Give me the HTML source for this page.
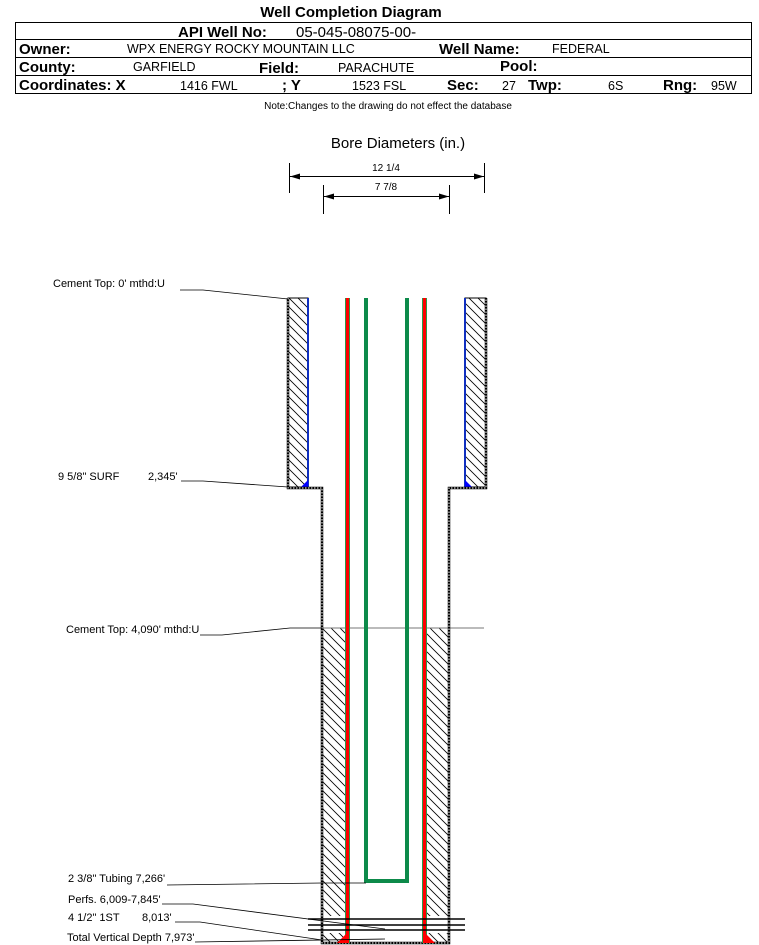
<!DOCTYPE html>
<html><head><meta charset="utf-8"><style>
body{margin:0;background:#fff;}
svg{display:block;font-family:"Liberation Sans",Arial,sans-serif;}
</style></head><body>
<svg width="759" height="945" viewBox="0 0 759 945" xmlns="http://www.w3.org/2000/svg">
<defs>
<pattern id="h" patternUnits="userSpaceOnUse" width="9" height="9">
<path d="M-1,-1 L10,10 M-10,-1 L1,10 M8,-1 L19,10" stroke="#000" stroke-width="0.8"/>
</pattern>
<marker id="a" markerWidth="10" markerHeight="8" refX="10" refY="4" orient="auto-start-reverse" markerUnits="userSpaceOnUse"><path d="M0,1 L10,4 L0,7z" fill="#000"/></marker>
</defs>
<text x="351" y="17" font-size="15" font-weight="bold" text-anchor="middle">Well Completion Diagram</text>
<rect x="15.5" y="22.5" width="736" height="71" fill="none" stroke="#000"/>
<line x1="15" y1="39.5" x2="752" y2="39.5" stroke="#000"/>
<line x1="15" y1="57.5" x2="752" y2="57.5" stroke="#000"/>
<line x1="15" y1="75.5" x2="752" y2="75.5" stroke="#000"/>
<g font-size="15" font-weight="bold">
<text x="178" y="37">API Well No:</text>
<text x="19" y="54">Owner:</text><text x="439" y="54">Well Name:</text>
<text x="19" y="72">County:</text><text x="259" y="73">Field:</text><text x="500" y="71">Pool:</text>
<text x="19" y="90">Coordinates: X</text><text x="282" y="90">; Y</text><text x="447" y="90">Sec:</text><text x="528" y="90">Twp:</text><text x="663" y="90">Rng:</text>
</g>
<g font-size="12.5">
<text x="296" y="37" font-size="15">05-045-08075-00-</text>
<text x="127" y="53">WPX ENERGY ROCKY MOUNTAIN LLC</text><text x="552" y="53">FEDERAL</text>
<text x="133" y="71">GARFIELD</text><text x="338" y="72">PARACHUTE</text>
<text x="180" y="90">1416 FWL</text><text x="352" y="90">1523 FSL</text><text x="502" y="90">27</text><text x="608" y="90">6S</text><text x="711" y="90">95W</text>
</g>
<text x="388" y="109" font-size="10" text-anchor="middle">Note:Changes to the drawing do not effect the database</text>
<text x="398" y="148" font-size="15" text-anchor="middle">Bore Diameters (in.)</text>
<g stroke="#000" stroke-width="1">
<line x1="289.5" y1="163" x2="289.5" y2="193"/><line x1="484.5" y1="163" x2="484.5" y2="193"/>
<line x1="290" y1="176.5" x2="484" y2="176.5" marker-start="url(#a)" marker-end="url(#a)"/>
<line x1="323.5" y1="185" x2="323.5" y2="214"/><line x1="449.5" y1="185" x2="449.5" y2="214"/>
<line x1="324" y1="196.5" x2="449" y2="196.5" marker-start="url(#a)" marker-end="url(#a)"/>
</g>
<text x="386" y="171" font-size="10" text-anchor="middle">12 1/4</text>
<text x="386" y="190" font-size="10" text-anchor="middle">7 7/8</text>
<rect x="288" y="298" width="20" height="189" fill="url(#h)" stroke="#000"/>
<rect x="465" y="298" width="21" height="189" fill="url(#h)" stroke="#000"/>
<line x1="308" y1="298" x2="308" y2="487" stroke="#1030c0" stroke-width="2"/>
<line x1="465" y1="298" x2="465" y2="487" stroke="#1030c0" stroke-width="2"/>
<path d="M301,487 L308,480 L308,487z" fill="#0000ff"/><path d="M465,480 L472,487 L465,487z" fill="#0000ff"/>
<rect x="322" y="628" width="23" height="288" fill="url(#h)"/>
<rect x="427" y="628" width="22" height="288" fill="url(#h)"/>
<rect x="322" y="933" width="23" height="10" fill="url(#h)"/>
<rect x="427" y="933" width="22" height="10" fill="url(#h)"/>
<line x1="322" y1="628" x2="484" y2="628" stroke="#777" stroke-width="1"/>
<g fill="none" stroke="#000" stroke-width="2.5">
<path d="M288,298 L288,488 L322,488 L322,943 L449,943 L449,488 L486,488 L486,298"/>
</g>
<g fill="none" stroke="#fff" stroke-width="1" stroke-dasharray="1.5 1.5">
<path d="M288,298 L288,488 L322,488 L322,943 L449,943 L449,488 L486,488 L486,298"/>
</g>
<rect x="345" y="298" width="5" height="645" fill="#2a9a4a"/><rect x="346" y="298" width="3" height="645" fill="#ff0000"/>
<rect x="422" y="298" width="5" height="645" fill="#2a9a4a"/><rect x="423" y="298" width="3" height="645" fill="#ff0000"/>
<path d="M337,943 L347,933 L347,943z" fill="#ff0000"/><path d="M425,933 L435,943 L425,943z" fill="#ff0000"/>
<path d="M366,298 L366,881 L407,881 L407,298" fill="none" stroke="#0d8a4a" stroke-width="4"/>
<g stroke="#000" stroke-width="1.6">
<line x1="308" y1="919" x2="465" y2="919"/><line x1="308" y1="925" x2="465" y2="925"/><line x1="308" y1="930" x2="465" y2="930"/>
</g>
<g font-size="11" fill="#000">
<text x="53" y="287">Cement Top: 0' mthd:U</text>
<text x="58" y="480">9 5/8" SURF</text><text x="148" y="480">2,345'</text>
<text x="66" y="633">Cement Top: 4,090' mthd:U</text>
<text x="68" y="882">2 3/8" Tubing 7,266'</text>
<text x="68" y="903">Perfs. 6,009-7,845'</text>
<text x="68" y="921">4 1/2" 1ST</text><text x="142" y="921">8,013'</text>
<text x="67" y="941">Total Vertical Depth 7,973'</text>
</g>
<g stroke="#000" stroke-width="0.8" fill="none">
<path d="M180,290 L203,290 L288,299"/>
<path d="M181,481 L203,481 L288,487"/>
<path d="M200,635 L222,635 L290,628 L322,628"/>
<path d="M167,885 L322,883 L366,883"/>
<path d="M162,904 L193,904 L385,929"/>
<path d="M175,922 L200,922 L322,940"/>
<path d="M195,942 L385,939"/>
</g>
</svg>
</body></html>
